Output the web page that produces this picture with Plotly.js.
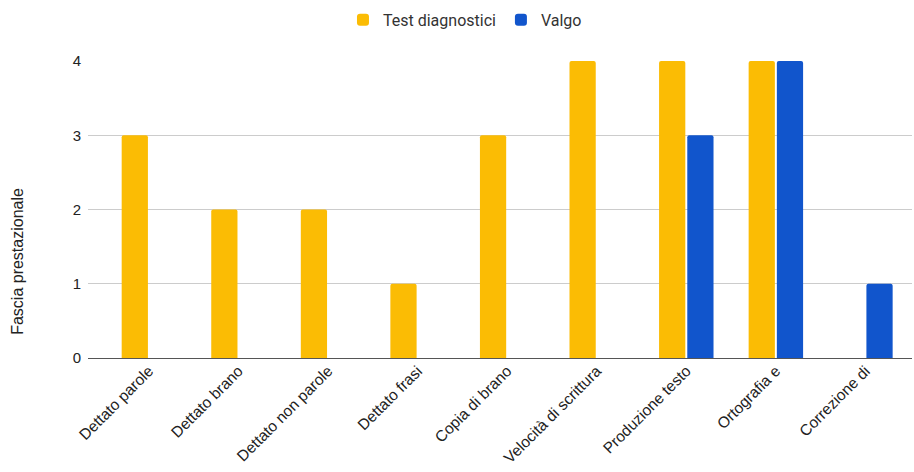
<!DOCTYPE html>
<html>
<head>
<meta charset="utf-8">
<script src="https://cdn.plot.ly/plotly-3.0.1.min.js"></script>
<style>html,body{margin:0;padding:0;background:#fff;}#chart{width:914px;height:472px;}</style>
</head>
<body>
<div id="chart"></div>
<script>
var categories = ["Dettato parole","Dettato brano","Dettato non parole","Dettato frasi","Copia di brano","Velocità di scrittura","Produzione testo","Ortografia e","Correzione di"];
var testDiagnostici = [3,2,2,1,3,4,4,4,null];
var valgo = [null,null,null,null,null,null,3,4,1];
var yTicks = [0,1,2,3,4];

var traces = [
  {type:'bar', name:'Test diagnostici', x:categories, y:testDiagnostici, marker:{color:'#FBBC04', cornerradius:2}, hoverinfo:'x+y'},
  {type:'bar', name:'Valgo', x:categories, y:valgo, marker:{color:'#1155CC', cornerradius:2}, hoverinfo:'x+y'}
];

var layout = {
  width:914, height:472,
  margin:{l:88, r:2, t:61, b:114},
  paper_bgcolor:'#fff', plot_bgcolor:'#fff',
  barmode:'group', bargap:0.37, bargroupgap:0.07,
  font:{family:'Arial, Liberation Sans, sans-serif', size:15, color:'#222'},
  showlegend:true,
  legend:{orientation:'h', x:0.4575, xanchor:'center', y:0.994, yref:'container', yanchor:'top', font:{family:'Roboto, Arial, sans-serif', size:16, color:'#333'}, itemwidth:30, traceorder:'normal'},
  xaxis:{type:'category', range:[-0.68, 8.52], tickangle:-45, showgrid:false, zeroline:false, showline:false, ticks:'', tickfont:{size:15.5, color:'#222'}, automargin:false},
  yaxis:{range:[0,4], tickvals:yTicks, ticktext:yTicks.map(String), showgrid:true, gridcolor:'#cccccc', zeroline:true, zerolinecolor:'#555555', zerolinewidth:1, showline:false, ticks:'', ticklabelstandoff:6, tickfont:{size:15, color:'#222'}, automargin:false, fixedrange:true},
  annotations:[{text:'Fascia prestazionale', xref:'paper', yref:'paper', x:-0.085, y:0.327, xanchor:'center', yanchor:'middle', textangle:-90, showarrow:false, font:{family:'Arial, Liberation Sans, sans-serif', size:16, color:'#222'}}]
};

Plotly.newPlot('chart', traces, layout, {displayModeBar:false, staticPlot:true});
</script>
</body>
</html>
